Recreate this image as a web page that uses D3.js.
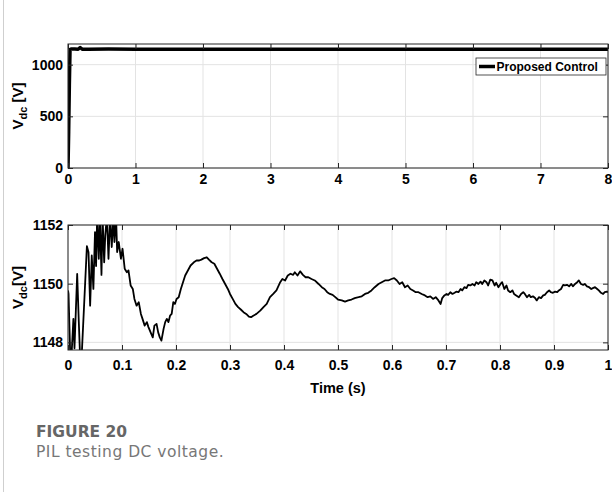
<!DOCTYPE html>
<html>
<head>
<meta charset="utf-8">
<script src="https://cdn.jsdelivr.net/npm/d3@7"></script>
<style>
  body { margin: 0; background: #fff; }
  svg { display: block; }
</style>
</head>
<body>
<div id="chart"></div>
<script>
// Top panel: full 0-8 s run
const fullTime = [0, 0.01, 0.02, 0.03, 0.05, 0.1, 0.15, 0.18, 0.21, 0.3, 0.6, 1, 2, 3, 4, 5, 6, 7, 8];
const fullVolt = [0, 350, 800, 1148, 1151, 1151, 1149, 1166, 1150, 1150, 1151, 1150, 1150, 1150, 1150, 1150, 1150, 1150, 1150];
const fullXTicks = [0, 1, 2, 3, 4, 5, 6, 7, 8];
const fullYTicks = [0, 500, 1000];

// Bottom panel: first second, zoomed
const zoomTime = [
  0.000, 0.001, 0.005, 0.010, 0.012, 0.017, 0.020, 0.023, 0.025, 0.035, 0.038, 0.041, 0.044, 0.047, 0.050,
  0.052, 0.054, 0.057, 0.059, 0.062, 0.064, 0.067, 0.069, 0.072, 0.075, 0.078, 0.081, 0.084, 0.086, 0.089,
  0.091, 0.094, 0.098, 0.101, 0.105, 0.109, 0.112, 0.116, 0.120, 0.123, 0.127, 0.131, 0.135, 0.138, 0.142,
  0.146, 0.149, 0.153, 0.157, 0.160, 0.164, 0.167, 0.170, 0.173, 0.177, 0.180, 0.183, 0.186, 0.189, 0.192,
  0.195, 0.198, 0.201, 0.205, 0.209, 0.213, 0.217, 0.222, 0.227, 0.233, 0.238, 0.243, 0.247, 0.252, 0.257,
  0.261, 0.266, 0.271, 0.276, 0.281, 0.286, 0.291, 0.296, 0.300, 0.305, 0.310, 0.315, 0.320, 0.325, 0.330,
  0.335, 0.339, 0.343, 0.349, 0.356, 0.362, 0.368, 0.374, 0.380, 0.386, 0.393, 0.397, 0.402, 0.407, 0.412,
  0.417, 0.420, 0.425, 0.430, 0.435, 0.440, 0.445, 0.451, 0.457, 0.464, 0.470, 0.475, 0.480, 0.485, 0.490,
  0.495, 0.500, 0.507, 0.513, 0.519, 0.525, 0.531, 0.538, 0.544, 0.550, 0.556, 0.562, 0.568, 0.575, 0.581,
  0.587, 0.593, 0.599, 0.604, 0.609, 0.614, 0.619, 0.624, 0.629, 0.634, 0.639, 0.644, 0.649, 0.655, 0.661,
  0.666, 0.671, 0.676, 0.681, 0.686, 0.690, 0.693, 0.697, 0.701, 0.704, 0.708, 0.712, 0.716, 0.719, 0.723,
  0.727, 0.730, 0.734, 0.738, 0.741, 0.745, 0.749, 0.753, 0.756, 0.760, 0.764, 0.767, 0.771, 0.775, 0.778,
  0.782, 0.786, 0.790, 0.793, 0.797, 0.801, 0.804, 0.808, 0.812, 0.815, 0.819, 0.823, 0.826, 0.830, 0.835,
  0.839, 0.843, 0.846, 0.850, 0.854, 0.857, 0.861, 0.865, 0.868, 0.872, 0.876, 0.880, 0.883, 0.887, 0.891,
  0.894, 0.898, 0.902, 0.906, 0.909, 0.913, 0.917, 0.920, 0.924, 0.928, 0.932, 0.935, 0.939, 0.943, 0.946,
  0.950, 0.954, 0.957, 0.961, 0.965, 0.969, 0.972, 0.976, 0.980, 0.983, 0.987, 0.991, 0.994, 0.998, 1.000
];
const zoomVolt = [
  1149.77, 1149.65, 1147.00, 1148.80, 1147.80, 1150.33, 1148.70, 1147.20, 1147.40, 1151.28, 1151.07, 1149.25, 1150.96, 1149.82, 1151.76,
  1150.60, 1152.30, 1150.85, 1152.30, 1150.30, 1152.30, 1150.73, 1151.64, 1152.30, 1150.85, 1152.30, 1151.25, 1152.30, 1151.42, 1152.30,
  1151.08, 1151.42, 1150.85, 1151.19, 1150.51, 1150.39, 1150.45, 1149.94, 1149.82, 1149.48, 1149.25, 1149.37, 1148.97, 1148.80, 1148.57,
  1148.69, 1148.52, 1148.34, 1148.17, 1148.57, 1148.63, 1148.34, 1148.17, 1148.06, 1148.46, 1148.69, 1148.80, 1148.69, 1148.91, 1148.97,
  1149.37, 1149.31, 1149.48, 1149.54, 1149.82, 1150.05, 1150.28, 1150.45, 1150.62, 1150.73, 1150.79, 1150.79, 1150.82, 1150.87, 1150.90,
  1150.82, 1150.73, 1150.68, 1150.51, 1150.34, 1150.16, 1149.99, 1149.82, 1149.65, 1149.48, 1149.31, 1149.20, 1149.12, 1149.03, 1148.97,
  1148.88, 1148.86, 1148.91, 1148.97, 1149.08, 1149.20, 1149.31, 1149.54, 1149.65, 1149.77, 1150.05, 1150.16, 1150.11, 1150.28, 1150.34,
  1150.30, 1150.39, 1150.28, 1150.42, 1150.30, 1150.22, 1150.22, 1150.16, 1150.11, 1149.99, 1149.88, 1149.82, 1149.71, 1149.65, 1149.62,
  1149.54, 1149.46, 1149.43, 1149.39, 1149.43, 1149.46, 1149.51, 1149.54, 1149.57, 1149.65, 1149.69, 1149.77, 1149.88, 1149.99, 1150.05,
  1150.11, 1150.11, 1150.16, 1150.19, 1150.11, 1149.99, 1150.05, 1149.88, 1149.94, 1149.82, 1149.77, 1149.71, 1149.71, 1149.65, 1149.60,
  1149.54, 1149.57, 1149.48, 1149.54, 1149.43, 1149.31, 1149.51, 1149.60, 1149.65, 1149.62, 1149.71, 1149.65, 1149.69, 1149.73, 1149.71,
  1149.82, 1149.77, 1149.88, 1149.85, 1149.96, 1149.94, 1149.99, 1149.94, 1150.05, 1149.99, 1150.07, 1149.99, 1150.11, 1150.05, 1149.94,
  1150.14, 1150.11, 1149.94, 1150.03, 1149.88, 1149.99, 1150.05, 1149.82, 1149.94, 1149.77, 1149.71, 1149.77, 1149.65, 1149.60, 1149.54,
  1149.65, 1149.71, 1149.65, 1149.54, 1149.62, 1149.54, 1149.57, 1149.51, 1149.43, 1149.54, 1149.51, 1149.60, 1149.62, 1149.71, 1149.77,
  1149.71, 1149.69, 1149.73, 1149.71, 1149.77, 1149.82, 1149.96, 1149.94, 1149.96, 1149.91, 1149.99, 1149.91, 1149.99, 1150.05, 1150.11,
  1149.99, 1149.96, 1149.99, 1149.91, 1149.88, 1149.82, 1149.85, 1149.88, 1149.82, 1149.77, 1149.69, 1149.65, 1149.71, 1149.73, 1149.71
];
const zoomXTicks = [0, 0.1, 0.2, 0.3, 0.4, 0.5, 0.6, 0.7, 0.8, 0.9, 1];
const zoomYTicks = [1148, 1150, 1152];

const W = 612, H = 492;
const tickFont = "'Liberation Sans', Arial, sans-serif";
const axisColor = "#262626";

const svg = d3.select("#chart").append("svg")
    .attr("width", W)
    .attr("height", H);

// page frame line on the left
svg.append("line")
    .attr("x1", 3.5).attr("x2", 3.5)
    .attr("y1", 0).attr("y2", H)
    .style("stroke", "#cfcfcf")
    .style("stroke-width", 1);

function drawPanel(opts) {
    const x = d3.scaleLinear().domain(opts.xDomain).range([68, 608]);
    const y = d3.scaleLinear().domain(opts.yDomain).range([opts.bottom, opts.top]);
    const g = svg.append("g");

    // grid
    g.selectAll(".gx").data(opts.xTicks).join("line")
        .attr("x1", d => x(d)).attr("x2", d => x(d))
        .attr("y1", opts.top).attr("y2", opts.bottom)
        .style("stroke", "#e3e3e3").style("stroke-width", 1);
    g.selectAll(".gy").data(opts.yTicks).join("line")
        .attr("x1", 68).attr("x2", 608)
        .attr("y1", d => y(d)).attr("y2", d => y(d))
        .style("stroke", "#e3e3e3").style("stroke-width", 1);

    // clipped data line
    const clipId = "clip" + opts.id;
    svg.append("clipPath").attr("id", clipId)
        .append("rect")
        .attr("x", 68).attr("y", opts.top)
        .attr("width", 540).attr("height", opts.bottom - opts.top);

    const line = d3.line()
        .x((d, i) => x(opts.time[i]))
        .y(d => y(d));

    g.append("path")
        .datum(opts.volt)
        .attr("clip-path", `url(#${clipId})`)
        .attr("d", line)
        .style("fill", "none")
        .style("stroke", "#000")
        .style("stroke-width", opts.lineWidth)
        .style("stroke-linejoin", "round");

    // axes with inward ticks on all four sides (MATLAB box on)
    const tick = 5;
    g.append("g")
        .attr("transform", `translate(0, ${opts.bottom})`)
        .call(d3.axisBottom(x).tickValues(opts.xTicks).tickSizeInner(-tick).tickSizeOuter(0).tickPadding(opts.xPad).tickFormat(d3.format("~g")))
        .call(a => a.select(".domain").remove())
        .call(a => a.selectAll("line").style("stroke", axisColor))
        .call(a => a.selectAll("text")
            .style("font-family", tickFont).style("font-weight", "bold")
            .style("font-size", "14px").style("fill", "#000"));
    g.append("g")
        .attr("transform", `translate(0, ${opts.top})`)
        .call(d3.axisTop(x).tickValues(opts.xTicks).tickSizeInner(-tick).tickSizeOuter(0).tickFormat(""))
        .call(a => a.select(".domain").remove())
        .call(a => a.selectAll("line").style("stroke", axisColor));
    g.append("g")
        .attr("transform", "translate(68, 0)")
        .call(d3.axisLeft(y).tickValues(opts.yTicks).tickSizeInner(-tick).tickSizeOuter(0).tickPadding(5).tickFormat(d3.format("d")))
        .call(a => a.select(".domain").remove())
        .call(a => a.selectAll("line").style("stroke", axisColor))
        .call(a => a.selectAll("text")
            .style("font-family", tickFont).style("font-weight", "bold")
            .style("font-size", "14px").style("fill", "#000"));
    g.append("g")
        .attr("transform", "translate(608, 0)")
        .call(d3.axisRight(y).tickValues(opts.yTicks).tickSizeInner(-tick).tickSizeOuter(0).tickFormat(""))
        .call(a => a.select(".domain").remove())
        .call(a => a.selectAll("line").style("stroke", axisColor));

    // box
    g.append("rect")
        .attr("x", 68).attr("y", opts.top)
        .attr("width", 540).attr("height", opts.bottom - opts.top)
        .style("fill", "none").style("stroke", axisColor).style("stroke-width", 1);

    // y label V_dc [V]
    const lab = g.append("text")
        .attr("transform", `translate(23, ${(opts.top + opts.bottom) / 2}) rotate(-90)`)
        .attr("text-anchor", "middle")
        .style("font-family", tickFont).style("font-weight", "bold")
        .style("font-size", "15px").style("fill", "#000");
    lab.append("tspan").text("V");
    lab.append("tspan").attr("dy", 4).style("font-size", "11px").text("dc");
    lab.append("tspan").attr("dy", -4).text(opts.ySuffix);

    return { x, y, g };
}

const topPanel = drawPanel({
    id: "top", time: fullTime, volt: fullVolt,
    xDomain: [0, 8], yDomain: [0, 1200],
    xTicks: fullXTicks, yTicks: fullYTicks,
    top: 44, bottom: 168, lineWidth: 3.5, ySuffix: " [V]", xPad: 6
});

const bottomPanel = drawPanel({
    id: "bottom", time: zoomTime, volt: zoomVolt,
    xDomain: [0, 1], yDomain: [1147.74, 1152],
    xTicks: zoomXTicks, yTicks: zoomYTicks,
    top: 225, bottom: 350, lineWidth: 1.8, ySuffix: "[V]", xPad: 10
});

// legend in top panel
const leg = svg.append("g");
leg.append("rect")
    .attr("x", 476).attr("y", 58)
    .attr("width", 130).attr("height", 17)
    .style("fill", "#fff").style("stroke", axisColor).style("stroke-width", 0.8);
leg.append("line")
    .attr("x1", 479).attr("x2", 495)
    .attr("y1", 66.5).attr("y2", 66.5)
    .style("stroke", "#000").style("stroke-width", 3.5);
leg.append("text")
    .attr("x", 496.5).attr("y", 71)
    .style("font-family", tickFont).style("font-weight", "bold")
    .style("font-size", "12px").style("fill", "#000")
    .text("Proposed Control");

// x axis title
svg.append("text")
    .attr("x", 338).attr("y", 393)
    .attr("text-anchor", "middle")
    .style("font-family", tickFont).style("font-weight", "bold")
    .style("font-size", "14.5px").style("fill", "#000")
    .text("Time (s)");

// caption
svg.append("text")
    .attr("x", 36).attr("y", 437)
    .style("font-family", "'DejaVu Sans', sans-serif").style("font-weight", "bold")
    .style("font-size", "15.5px").style("fill", "#666")
    .text("FIGURE 20");
svg.append("text")
    .attr("x", 36).attr("y", 457)
    .style("font-family", "'DejaVu Sans', sans-serif")
    .style("font-size", "15.5px").style("letter-spacing", "0.5px").style("fill", "#777")
    .text("PIL testing DC voltage.");
</script>
</body>
</html>
